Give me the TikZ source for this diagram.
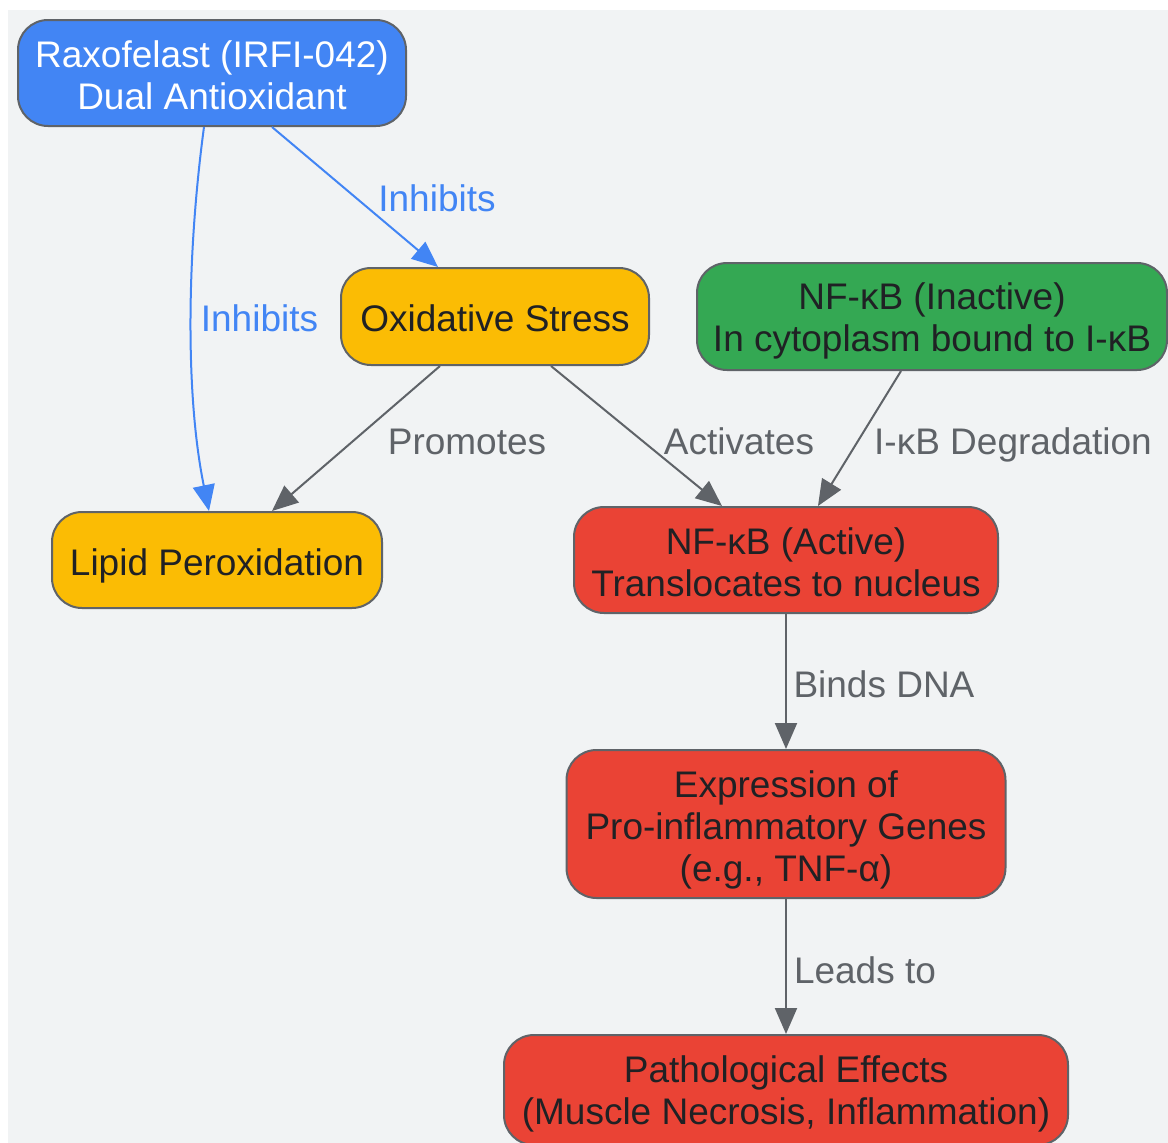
\documentclass[tikz,border=0pt]{standalone}
\usepackage{fontspec}
\setmainfont{Liberation Sans}
\usetikzlibrary{arrows.meta,calc}
\definecolor{bg}{HTML}{F1F3F4}
\definecolor{edgegray}{HTML}{5F6368}
\definecolor{gblue}{HTML}{4285F4}
\definecolor{gyellow}{HTML}{FBBC04}
\definecolor{ggreen}{HTML}{34A853}
\definecolor{gred}{HTML}{EA4335}
\definecolor{dark}{HTML}{202124}
\begin{document}
\begin{tikzpicture}[x=1pt,y=-1pt,
  box/.style={draw=edgegray, line width=2pt, rounded corners=30pt, inner sep=0pt},
  txt/.style={align=center, font=\fontsize{37}{42}\selectfont, text=dark, inner sep=0pt},
  lbl/.style={font=\fontsize{37}{42}\selectfont, text=edgegray, inner sep=0pt,
    text height=26.5pt, text depth=0pt},
  blbl/.style={lbl, text=gblue},
  conn/.style={draw=edgegray, line width=2pt, -{Triangle[length=26pt,width=22pt]}},
  bconn/.style={conn, draw=gblue, color=gblue}
]
\useasboundingbox (0,0) rectangle (1168,1143);
\fill[bg] (8,10) rectangle (1168,1143);

\node[box, fill=gblue, minimum width=388pt, minimum height=106pt] (rax) at (212,73) {};
\node[txt, text=white] (raxt) at ($(rax.center)+(0,2)$) {Raxofelast (IRFI-042)\\Dual Antioxidant};
\node[box, fill=gyellow, minimum width=308pt, minimum height=97pt] (ox) at (495,316.5) {};
\node[txt] (oxt) at ($(ox.center)+(0,2)$) {Oxidative Stress};
\node[box, fill=ggreen, minimum width=470pt, minimum height=107pt] (inact) at (932,316.5) {};
\node[txt] (inactt) at ($(inact.center)+(0,4)$) {NF-κB (Inactive)\\In cytoplasm bound to I-κB};
\node[box, fill=gyellow, minimum width=330pt, minimum height=96pt] (lipid) at (217,560) {};
\node[txt] (lipidt) at ($(lipid.center)+(0,6)$) {Lipid Peroxidation};
\node[box, fill=gred, minimum width=424pt, minimum height=106pt] (act) at (786,560) {};
\node[txt] (actt) at ($(act.center)+(0,2)$) {NF-κB (Active)\\Translocates to nucleus};
\node[box, fill=gred, minimum width=439pt, minimum height=148pt] (expr) at (786,824) {};
\node[txt] (exprt) at ($(expr.center)+(0,6)$) {Expression of\\Pro-inflammatory Genes\\(e.g., TNF-α)};
\node[box, fill=gred, minimum width=564pt, minimum height=110pt] (path) at (786,1090) {};
\node[txt] (patht) at ($(path.center)+(0,4)$) {Pathological Effects\\(Muscle Necrosis, Inflammation)};

\draw[bconn] ([xshift=60pt]rax.south) -- ([xshift=-57pt]ox.north);
\draw[bconn] ([xshift=-8pt]rax.south) .. controls +(-18,134) and +(-23,-112) .. ([xshift=-8pt]lipid.north);
\draw[conn] ([xshift=-55pt]ox.south) -- ([xshift=55pt]lipid.north);
\draw[conn] ([xshift=56pt]ox.south) -- ([xshift=-64pt]act.north);
\draw[conn] ([xshift=-31pt]inact.south) -- ([xshift=32pt]act.north);
\draw[conn] (act.south) -- (expr.north);
\draw[conn] (expr.south) -- (path.north);

\node[blbl] (l1) at (437,198) {Inhibits};
\node[blbl] (l2) at (259.5,318) {Inhibits};
\node[lbl] (l3) at (467,441) {Promotes};
\node[lbl] (l4) at (739,441) {Activates};
\node[lbl] (l5) at (1013,441) {I-κB Degradation};
\node[lbl] (l6) at (884,684) {Binds DNA};
\node[lbl] (l7) at (865,970) {Leads to};
\end{tikzpicture}
\end{document}
